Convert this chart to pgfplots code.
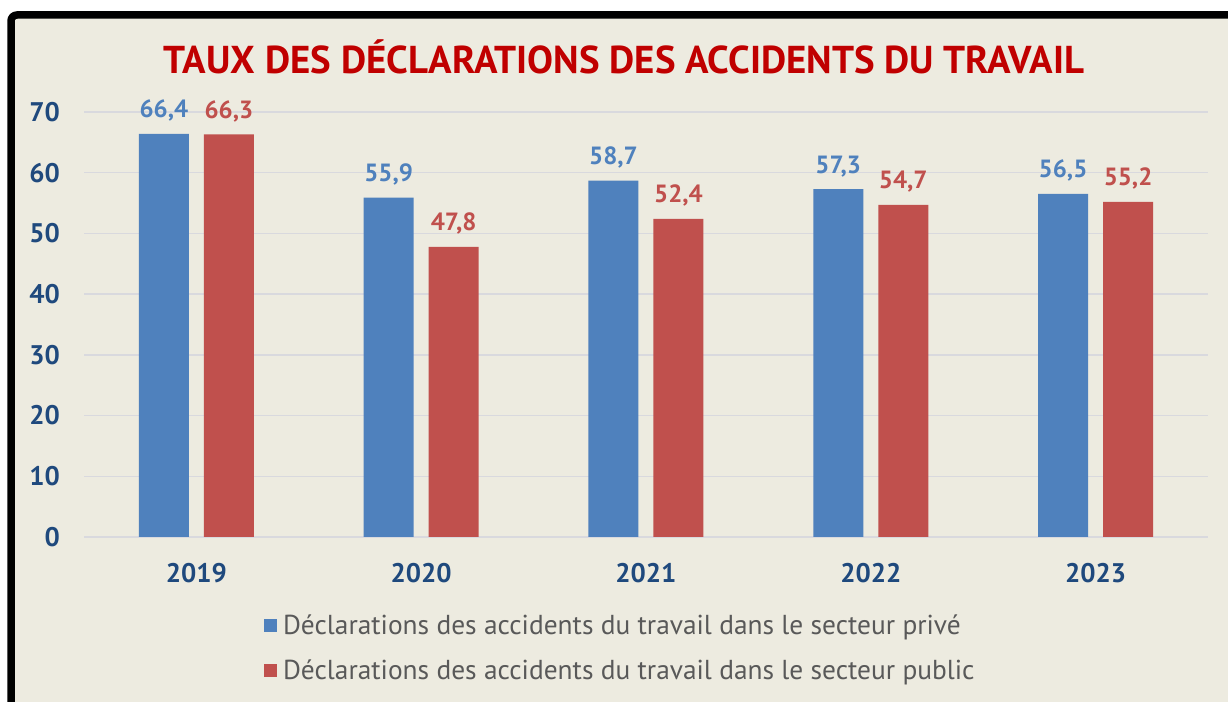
\documentclass[border=0pt]{standalone}
\usepackage{fontspec}
\setmainfont{PT Sans}
\usepackage{pgfplots}
\pgfplotsset{compat=1.18}
\definecolor{bg}{HTML}{EDEBE0}
\definecolor{blu}{HTML}{4F81BD}
\definecolor{rd}{HTML}{C0504D}
\definecolor{tit}{HTML}{C00000}
\definecolor{tickc}{HTML}{1F497D}
\definecolor{leg}{HTML}{595959}
\definecolor{grd}{HTML}{D9D9DE}
\begin{document}
\begin{tikzpicture}[x=1bp,y=1bp]
\useasboundingbox (0,0) rectangle (1228,702);
\fill[white] (0,0) rectangle (1228,702);
\fill[bg] (11,0) rectangle (1240,687);
\draw[line width=7.5bp, rounded corners=6bp] (11,-10) -- (11,687) -- (1240,687);
\node[font=\fontsize{39}{46}\selectfont\bfseries, text=tit, inner sep=0pt] at (624,645) {TAUX DES DÉCLARATIONS DES ACCIDENTS DU TRAVAIL};
\begin{axis}[
  at={(84bp,165bp)}, anchor=south west,
  scale only axis, width=1124bp, height=425bp,
  ybar=15bp, bar width=50bp,
  xmin=-0.5, xmax=4.5, ymin=0, ymax=70,
  xtick={0,1,2,3,4}, xticklabels={2019,2020,2021,2022,2023},
  ytick={0,10,...,70},
  axis line style={draw=none},
  major tick length=0pt,
  ymajorgrids, grid style={grd, line width=1.5bp},
  tick label style={font=\fontsize{27}{32}\selectfont\bfseries, text=tickc},
  /pgf/number format/assume math mode=true,
  yticklabel style={anchor=east, inner sep=0pt, xshift=-24bp},
  xticklabel style={anchor=north, inner sep=0pt, yshift=-26bp},
  nodes near coords={\pgfmathprintnumber[use comma,fixed,fixed zerofill,precision=1,assume math mode=true]{\pgfplotspointmeta}},
  nodes near coords style={font=\fontsize{25}{30}\selectfont\bfseries, anchor=base, inner sep=0pt, yshift=16bp},
  legend style={at={(axis description cs:0.160,-0.261)}, anchor=west, draw=none, fill=none,
    font=\fontsize{27.5}{32}\selectfont, text=leg, row sep=19bp, inner sep=0pt,
    /tikz/every odd column/.append style={column sep=4bp}},
  legend cell align=left,
]
\addplot[fill=blu, draw=none, every node near coord/.append style={text=blu},
  legend image code/.code={\fill[blu] (0bp,-6.5bp) rectangle (13bp,6.5bp);}]
  coordinates {(0,66.4) (1,55.9) (2,58.7) (3,57.3) (4,56.5)};
\addlegendentry{Déclarations des accidents du travail dans le secteur privé}
\addplot[fill=rd, draw=none, every node near coord/.append style={text=rd},
  legend image code/.code={\fill[rd] (0bp,-6.5bp) rectangle (13bp,6.5bp);}]
  coordinates {(0,66.3) (1,47.8) (2,52.4) (3,54.7) (4,55.2)};
\addlegendentry{Déclarations des accidents du travail dans le secteur public}
\end{axis}
\end{tikzpicture}
\end{document}
